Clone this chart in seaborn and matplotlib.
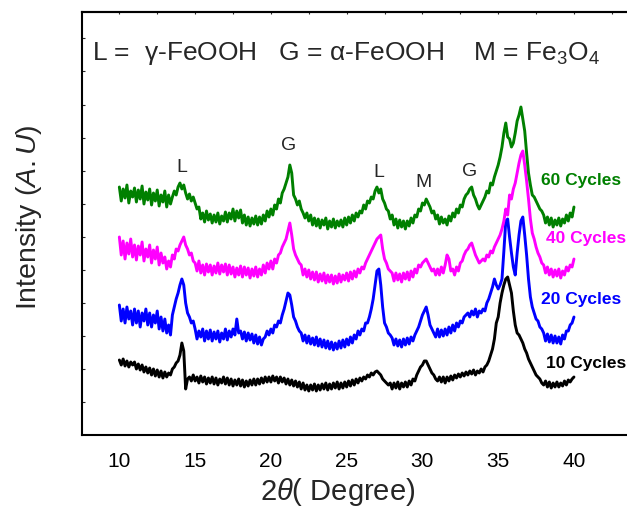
import numpy as np
import pandas as pd
import matplotlib
matplotlib.use("Agg")
import matplotlib.pyplot as plt
import seaborn as sns

# ---- data (intensity in arbitrary units, offset-stacked as in the figure) ----
two_theta = np.linspace(10, 40, 241)   # 0.125 degree steps

cycles_60 = [
    248, 234, 246, 237, 250, 232, 244, 238,
    247, 233, 245, 236, 249, 231, 243, 235,
    246, 230, 242, 234, 245, 229, 240, 233,
    244, 228, 240, 231, 238, 244, 240, 248,
    252, 246, 250, 242, 236, 241, 234, 238,
    232, 226, 228, 216, 222, 213, 224, 215,
    221, 212, 220, 213, 222, 211, 219, 214,
    223, 213, 222, 216, 226, 214, 224, 217,
    225, 212, 220, 210, 218, 209, 217, 211,
    219, 210, 218, 211, 220, 214, 224, 218,
    226, 220, 230, 226, 236, 232, 242, 246,
    252, 258, 270, 262, 240, 236, 230, 234,
    226, 222, 217, 222, 214, 220, 210, 217,
    209, 216, 207, 215, 210, 217, 206, 214,
    208, 216, 207, 214, 209, 215, 208, 217,
    210, 218, 212, 220, 214, 222, 218, 224,
    222, 230, 226, 234, 232, 238, 236, 244,
    248, 242, 246, 236, 232, 226, 224, 216,
    220, 210, 216, 207, 215, 208, 214, 206,
    214, 209, 217, 212, 220, 218, 226, 224,
    232, 230, 236, 232, 228, 222, 224, 216,
    220, 211, 218, 212, 216, 210, 219, 214,
    222, 218, 226, 222, 230, 228, 236, 240,
    242, 246, 248, 240, 236, 230, 226, 230,
    234, 238, 244, 242, 252, 250, 258, 264,
    270, 278, 288, 302, 312, 298, 296, 288,
    292, 302, 314, 320, 328, 316, 304, 282,
    262, 250, 240, 238, 234, 230, 226, 224,
    220, 212, 218, 210, 217, 208, 215, 210,
    217, 209, 216, 212, 220, 214, 222, 218,
    228]

cycles_40 = [
    198, 180, 194, 176, 192, 181, 196, 178,
    190, 175, 189, 180, 193, 174, 186, 178,
    190, 172, 185, 176, 188, 170, 182, 172,
    178, 166, 174, 168, 180, 176, 186, 184,
    190, 194, 198, 190, 186, 180, 182, 174,
    172, 164, 174, 162, 170, 160, 171, 163,
    170, 160, 169, 162, 172, 161, 170, 163,
    171, 160, 170, 161, 168, 158, 167, 160,
    169, 158, 168, 160, 167, 157, 166, 159,
    168, 158, 166, 160, 170, 162, 172, 166,
    174, 166, 176, 172, 180, 182, 188, 192,
    196, 204, 212, 200, 186, 180, 176, 172,
    170, 160, 166, 158, 165, 156, 163, 155,
    163, 153, 161, 154, 162, 152, 160, 153,
    160, 151, 159, 152, 161, 153, 160, 155,
    162, 154, 163, 156, 164, 158, 166, 162,
    168, 166, 172, 176, 180, 184, 188, 192,
    196, 198, 200, 186, 176, 172, 166, 164,
    162, 154, 162, 155, 161, 153, 162, 156,
    163, 155, 164, 158, 166, 162, 170, 168,
    172, 174, 176, 172, 168, 164, 166, 160,
    166, 160, 168, 162, 170, 180, 176, 164,
    166, 160, 168, 164, 172, 174, 180, 184,
    186, 190, 192, 186, 180, 176, 172, 174,
    176, 174, 180, 178, 184, 182, 188, 192,
    196, 200, 206, 214, 226, 220, 240, 236,
    246, 252, 262, 272, 280, 284, 270, 254,
    236, 216, 202, 196, 188, 182, 178, 172,
    170, 162, 168, 160, 166, 158, 165, 159,
    166, 157, 164, 160, 168, 164, 170, 168,
    176]

cycles_20 = [
    130, 114, 126, 112, 128, 116, 124, 110,
    126, 112, 124, 108, 122, 114, 126, 110,
    122, 108, 120, 112, 124, 106, 118, 104,
    116, 102, 110, 100, 120, 128, 136, 142,
    150, 156, 150, 132, 122, 118, 112, 114,
    106, 96, 104, 98, 106, 94, 104, 96,
    105, 94, 103, 96, 104, 93, 102, 96,
    106, 95, 104, 98, 106, 100, 116, 102,
    104, 96, 103, 94, 102, 95, 101, 92,
    100, 91, 98, 90, 96, 98, 104, 100,
    106, 102, 110, 108, 114, 112, 120, 126,
    134, 142, 140, 130, 118, 114, 108, 104,
    102, 94, 100, 92, 99, 91, 97, 90,
    98, 89, 96, 88, 95, 87, 94, 86,
    93, 85, 92, 86, 94, 87, 95, 88,
    96, 90, 98, 92, 100, 96, 104, 100,
    106, 104, 112, 112, 118, 126, 136, 150,
    164, 166, 150, 128, 112, 108, 102, 100,
    97, 90, 96, 89, 95, 88, 96, 90,
    97, 91, 98, 94, 100, 104, 108, 114,
    120, 124, 128, 120, 110, 106, 102, 98,
    106, 98, 105, 99, 106, 100, 108, 102,
    110, 104, 112, 108, 114, 112, 118, 120,
    122, 118, 124, 120, 126, 118, 124, 122,
    126, 124, 132, 136, 142, 148, 156, 150,
    146, 150, 156, 184, 214, 216, 198, 182,
    168, 160, 182, 200, 214, 218, 200, 180,
    156, 138, 128, 122, 116, 114, 108, 106,
    102, 94, 101, 93, 100, 92, 99, 92,
    98, 91, 100, 96, 104, 104, 110, 112,
    118]

cycles_10 = [
    75, 70, 76, 69, 74, 68, 73, 70,
    73, 66, 71, 65, 70, 63, 68, 62,
    67, 60, 66, 59, 65, 58, 64, 57,
    63, 58, 62, 60, 66, 68, 72, 74,
    80, 92, 84, 46, 56, 58, 54, 60,
    54, 58, 52, 59, 53, 58, 51, 57,
    52, 58, 51, 57, 50, 56, 52, 58,
    51, 57, 50, 56, 49, 55, 50, 56,
    49, 55, 48, 54, 49, 55, 50, 56,
    50, 56, 51, 57, 52, 58, 53, 58,
    53, 59, 54, 58, 52, 58, 53, 57,
    51, 56, 50, 55, 49, 54, 48, 53,
    46, 52, 45, 50, 44, 50, 45, 51,
    44, 50, 45, 51, 46, 52, 45, 51,
    46, 52, 47, 53, 46, 52, 47, 53,
    48, 54, 49, 55, 50, 56, 52, 57,
    54, 58, 56, 60, 58, 62, 60, 63,
    64, 62, 60, 56, 54, 52, 50, 52,
    46, 52, 47, 53, 46, 52, 48, 53,
    48, 54, 50, 56, 54, 60, 64, 68,
    70, 74, 74, 70, 66, 62, 60, 56,
    54, 58, 53, 58, 52, 58, 54, 59,
    55, 60, 57, 61, 58, 62, 59, 63,
    60, 64, 61, 65, 60, 64, 62, 66,
    63, 68, 70, 74, 80, 86, 96, 112,
    118, 132, 142, 150, 156, 158, 150, 142,
    124, 110, 102, 100, 96, 92, 86, 82,
    76, 72, 68, 64, 60, 58, 56, 52,
    50, 54, 48, 53, 47, 52, 48, 53,
    48, 52, 49, 54, 50, 55, 53, 56,
    58]

series_names = ["10 Cycles", "20 Cycles", "40 Cycles", "60 Cycles"]
series_colors = ["#000000", "#0000ff", "#ff00ff", "#008000"]

peak_labels = ["L", "G", "L", "M", "G"]
peak_pos = [14.1, 21.2, 27.1, 30.1, 33.1]
peak_height = [259, 281, 254, 244, 255]

# ---- build long-form table ----
frames = []
for name, vals in zip(series_names, [cycles_10, cycles_20, cycles_40, cycles_60]):
    frames.append(pd.DataFrame({"two_theta": two_theta, "intensity": vals, "sample": name}))
df = pd.concat(frames, ignore_index=True)

sns.set_style("white")
plt.rcParams["font.family"] = ["Liberation Sans", "DejaVu Sans"]
plt.rcParams["mathtext.fontset"] = "custom"
plt.rcParams["mathtext.rm"] = "Liberation Sans"
plt.rcParams["mathtext.it"] = "Liberation Sans:italic"

fig = plt.figure(figsize=(6.27, 5.09), dpi=100)
ax = fig.add_axes([0.1303, 0.1454, 0.8697, 0.831])

sns.lineplot(data=df, x="two_theta", y="intensity", hue="sample",
             palette=dict(zip(series_names, series_colors)), legend=False,
             linewidth=2.1, sort=False, estimator=None, ax=ax)

ax.set_xlim(7.515, 43.5)
ax.set_ylim(0, 423)

ax.set_xticks([10, 15, 20, 25, 30, 35, 40])
ax.set_xticks(np.arange(12.5, 43, 5), minor=True)
ax.set_yticks(np.arange(1, 13) * 33.05)
ax.set_yticklabels([])
ax.tick_params(axis="x", which="major", direction="in", length=7, width=1.2,
               labelsize=15, pad=12, colors="black", top=False)
ax.tick_params(axis="x", which="minor", direction="in", length=3.5, width=1.2, top=False)
ax.tick_params(axis="y", which="major", direction="in", length=2, width=0.8, left=True)

# tiny ticks on the top spine
sec = ax.secondary_xaxis("top")
sec.set_xticks(np.arange(10, 43, 2.5))
sec.set_xticklabels([])
sec.tick_params(direction="in", length=1.5, width=0.8)
sec.spines["top"].set_linewidth(1.5)

for s in ["left", "bottom", "top"]:
    ax.spines[s].set_visible(True)
    ax.spines[s].set_color("black")
    ax.spines[s].set_linewidth(1.5)
ax.spines["right"].set_visible(False)

ax.set_xlabel(r"2$\mathit{θ}$( Degree)", fontsize=21)
ax.xaxis.set_label_coords(0.47, -0.098)
ax.set_ylabel(r"Intensity ($\mathit{A.U}$)", fontsize=20.5)
ax.yaxis.set_label_coords(-0.069, 0.515)

# phase key
ax.text(8.2, 382, r"L =  γ-FeOOH   G = α-FeOOH    M = Fe$_3$O$_4$",
        fontsize=19, ha="left", va="center")

for lab, xp, yp in zip(peak_labels, peak_pos, peak_height):
    ax.text(xp, yp, lab, fontsize=14, ha="center", va="bottom")

label_pos = [(43.45, 71, "right"), (40.5, 135, "center"),
             (43.45, 197, "right"), (40.45, 255, "center")]
for name, col, (xp, yp, ha) in zip(series_names, series_colors, label_pos):
    ax.text(xp, yp, name, color=col, fontsize=12.5, fontweight="bold",
            ha=ha, va="center", clip_on=False)

fig.savefig("out.png", dpi=100)
